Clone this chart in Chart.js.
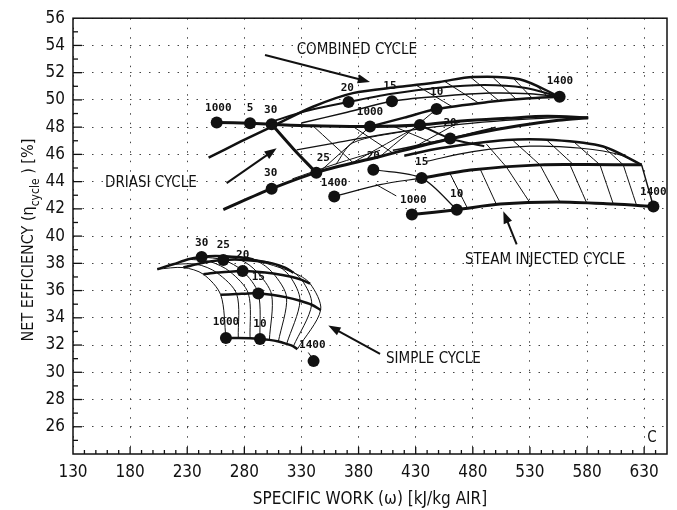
<!DOCTYPE html>
<html>
<head>
<meta charset="utf-8">
<script src="https://cdn.jsdelivr.net/npm/chart.js@4.4.1/dist/chart.umd.min.js"></script>
<style>
  html, body { margin: 0; padding: 0; background: #fff; }
  #chart { display: block; }
</style>
</head>
<body>
<canvas id="chart" width="677" height="510"></canvas>
<script>
// axis ticks
const xTickLabels = [130, 180, 230, 280, 330, 380, 430, 480, 530, 580, 630];
const yTickLabels = [26, 28, 30, 32, 34, 36, 38, 40, 42, 44, 46, 48, 50, 52, 54, 56];

// simple cycle carpet: rows = pressure ratio 10..30, columns = TIT 1000..1400
const simplePR = [10, 15, 20, 25, 30];
const simpleWork = [
  [263.9, 274.7, 285.0, 293.7, 301.9, 309.8, 317.0, 322.9, 326.4],
  [259.3, 273.3, 283.5, 292.2, 303.9, 317.0, 328.7, 338.9, 346.8],
  [244.1, 255.8, 267.4, 278.5, 290.8, 305.4, 320.0, 330.2, 337.5],
  [226.6, 238.3, 249.9, 261.6, 276.2, 290.8, 305.4, 315.6, 322.9],
  [203.8, 217.8, 231.0, 242.6, 254.3, 266.0, 274.7, 282.0, 287.9]
];
const simpleEff = [
  [32.52, 32.52, 32.50, 32.45, 32.38, 32.26, 32.08, 31.91, 31.70],
  [35.69, 35.74, 35.79, 35.79, 35.69, 35.50, 35.25, 34.96, 34.57],
  [37.20, 37.32, 37.39, 37.44, 37.39, 37.25, 37.03, 36.79, 36.52],
  [37.69, 37.93, 38.13, 38.25, 38.27, 38.17, 37.98, 37.69, 37.32],
  [37.57, 37.93, 38.30, 38.47, 38.54, 38.51, 38.47, 38.39, 38.30]
];
const simpleLeaderW = [336, 340.6];
const simpleLeaderE = [31.45, 30.9];

// combined cycle lines
const combinedWork = [
  [248.7, 277, 305.6, 340, 375, 416, 451, 480, 521, 556],
  [300, 335, 371.2, 409, 450, 490, 525, 556],
  [330, 370, 409.2, 450, 495, 530, 556],
  [390, 420, 448.3, 495, 527, 556]
];
const combinedEff = [
  [45.76, 46.95, 48.1, 49.5, 50.5, 50.96, 51.32, 51.69, 51.52, 50.23],
  [48.3, 49.2, 49.85, 50.45, 50.9, 51.1, 50.9, 50.23],
  [48.3, 49.1, 49.9, 50.25, 50.5, 50.45, 50.23],
  [48.04, 48.7, 49.33, 49.86, 50.11, 50.23]
];
const combinedHatchW = [[430, 462], [455, 485], [478, 503], [498, 518], [516, 532], [535, 546]];
const combinedHatchE = [[51.1, 49.5], [51.38, 49.77], [51.67, 49.92], [51.62, 50.05], [51.54, 50.13], [51.1, 50.19]];

// driasi cycle lines
const driasiWork = [
  [255.8, 285, 303.9, 340, 390, 433.7, 470, 510, 545, 581],
  [325.8, 360, 398.8, 440, 480, 520, 555, 581],
  [261.6, 303.9, 346.2, 398.8, 440, 480, 520, 555, 581]
];
const driasiEff = [
  [48.35, 48.28, 48.21, 48.1, 48.04, 48.16, 48.45, 48.65, 48.8, 48.69],
  [46.33, 46.85, 47.43, 47.95, 48.3, 48.55, 48.7, 48.69],
  [41.95, 43.48, 44.75, 45.84, 46.75, 47.5, 48.1, 48.5, 48.69]
];
const driasiWidth = [3, 1.2, 3];
const driasiMeshW = [[303.9, 323, 341.8], [340, 375], [375, 410], [410, 445], [433.7, 460.2, 490],
  [346.2, 390], [375, 433.7], [398.8, 448.3], [430, 470], [410, 460.2, 500],
  [322, 360, 398.8], [360, 375, 420]];
const driasiMeshE = [[48.21, 46.4, 44.75], [48.1, 45.4], [48.05, 46.1], [48.08, 46.85], [48.16, 47.17, 46.6],
  [44.75, 48.04], [45.4, 48.16], [45.84, 49.33], [46.6, 48.45], [46.3, 47.17, 48.0],
  [44.2, 45.3, 46.3], [45.25, 46.85, 47.7]];
const driasiMeshWidth = [3, 1, 1, 1, 2, 1, 1, 1, 1, 1.5, 1, 1];

// steam injected cycle lines
const steamWork = [
  [426.7, 466, 504, 553.6, 603.1, 638.1],
  [435.2, 480.4, 538.8, 580, 627.8],
  [420, 451.2, 509.6, 550.5, 594.2, 627.8],
  [440, 480, 530, 575, 610, 627.8],
  [627.8, 638.1],
  [466, 435.2, 392.9],
  [358.7, 398.8, 435.2],
  [395, 413]
];
const steamEff = [
  [41.58, 41.94, 42.35, 42.5, 42.35, 42.18],
  [44.26, 44.87, 45.23, 45.25, 45.23],
  [45.9, 46.45, 47.06, 47.06, 46.58, 45.23],
  [45.5, 46.2, 46.6, 46.45, 45.95, 45.23],
  [45.23, 42.18],
  [41.94, 44.26, 44.87],
  [42.91, 43.78, 44.26],
  [43.8, 42.95]
];
const steamWidth = [3, 3, 2.5, 1.2, 1.5, 1.2, 1.2, 1];
const steamHatchW = [[492, 509.6], [515.4, 538.8], [544.6, 568], [568, 591.3], [594.2, 611.7],
  [460, 475], [486.3, 500.8], [509.6, 530], [538.8, 556.3], [565, 579.6], [591.3, 603], [611.7, 623.4]];
const steamHatchE = [[46.75, 45.05], [47.0, 45.23], [47.06, 45.25], [46.95, 45.24], [46.58, 45.23],
  [44.6, 42.1], [44.95, 42.3], [45.05, 42.45], [45.23, 42.5], [45.25, 42.45], [45.24, 42.35], [45.23, 42.25]];

// marked points
const dotWork = [242.6, 261.6, 278.5, 292.2, 293.7, 263.9, 340.6,
  255.8, 285, 303.9, 303.9, 358.7, 390, 371.2, 392.9, 409.2, 448.3, 556,
  433.7, 460.2, 435.2, 426.7, 466, 638.1, 343];
const dotEff = [38.47, 38.25, 37.44, 35.79, 32.45, 32.52, 30.82,
  48.35, 48.28, 48.21, 43.48, 42.91, 48.04, 49.85, 44.87, 49.9, 49.33, 50.23,
  48.16, 47.17, 44.26, 41.58, 41.94, 42.18, 44.65];

// point labels
const numText = ['30', '25', '20', '15', '1000', '10', '1400',
  '1000', '5', '30', '20', '25', '30', '1400', '1000', '15', '10', '1400',
  '20', '15', '20', '1000', '10', '1400'];
const numWork = [242.7, 261.6, 278.6, 292.2, 263.9, 293.7, 339.5,
  257.2, 285, 303.1, 370.1, 349.1, 303.1, 358.5, 390, 407.5, 448.4, 556.3,
  460.1, 435.3, 392.9, 427.9, 465.9, 638];
const numEff = [39.51, 39.34, 38.61, 36.95, 33.67, 33.55, 31.96,
  49.42, 49.42, 49.26, 50.89, 45.72, 44.62, 43.89, 49.13, 51.03, 50.54, 51.38,
  48.28, 45.41, 45.84, 42.63, 43.09, 43.24];

// cycle names with arrows
const cycleNames = ['COMBINED CYCLE', 'DRIASI CYCLE', 'STEAM INJECTED CYCLE', 'SIMPLE CYCLE'];
const nameWork = [325.8, 158, 473.2, 404];
const nameEff = [53.64, 43.87, 38.27, 31.0];
const arrowFrom = [[298.1, 53.30], [264.5, 43.89], [518.4, 39.39], [398.8, 31.36]];
const arrowTo = [[390, 51.32], [308.3, 46.45], [506.7, 41.83], [353.5, 33.43]];

const INK = '#111';
const FONT = '"Liberation Sans Narrow", "DejaVu Sans Condensed", sans-serif';
const NUMFONT = 'bold 11px "DejaVu Sans Mono", monospace';

function pts(xs, ys) { return xs.map((x, i) => ({ x: x, y: ys[i] })); }
function lineSet(xs, ys, w) {
  return { data: pts(xs, ys), showLine: true, borderColor: INK, borderWidth: w,
    pointRadius: 0, tension: 0.3, fill: false };
}
function group(W, E, widths) {
  return W.map((r, i) => lineSet(r, E[i], Array.isArray(widths) ? widths[i] : widths));
}

const datasets = [];
// simple: pressure ratio lines thick, temperature lines thin
simpleWork.forEach((r, i) => datasets.push(lineSet(r, simpleEff[i], 2.5)));
for (let j = 0; j < simpleWork[0].length; j++) {
  datasets.push(lineSet(simpleWork.map(r => r[j]), simpleEff.map(r => r[j]), 1));
}
datasets.push(lineSet(simpleLeaderW, simpleLeaderE, 1));
datasets.push(...group(combinedWork, combinedEff, [2.5, 2, 1.5, 2.5]));
datasets.push(...group(combinedHatchW, combinedHatchE, 1));
datasets.push(...group(driasiWork, driasiEff, driasiWidth));
datasets.push(...group(driasiMeshW, driasiMeshE, driasiMeshWidth));
datasets.push(...group(steamWork, steamEff, steamWidth));
datasets.push(...group(steamHatchW, steamHatchE, 1));
datasets.push({ data: pts(dotWork, dotEff), showLine: false, pointRadius: 6,
  pointBackgroundColor: INK, pointBorderColor: INK, pointBorderWidth: 0 });

const decor = {
  id: 'decor',
  afterDatasetsDraw(chart) {
    const { ctx, chartArea: a, scales: { x, y } } = chart;
    ctx.save();
    // frame
    ctx.strokeStyle = INK; ctx.lineWidth = 1.5;
    ctx.strokeRect(a.left, a.top, a.right - a.left, a.bottom - a.top);
    // inner ticks
    ctx.lineWidth = 1.3;
    for (let v = 25; v < 56; v++) {
      const p = y.getPixelForValue(v);
      const len = v % 2 === 0 ? 9 : 5;
      ctx.beginPath(); ctx.moveTo(a.left, p); ctx.lineTo(a.left + len, p); ctx.stroke();
    }
    for (let v = 140; v < 650; v += 10) {
      const p = x.getPixelForValue(v);
      const len = (v - 130) % 50 === 0 ? 7 : 4;
      ctx.beginPath(); ctx.moveTo(p, a.bottom); ctx.lineTo(p, a.bottom - len); ctx.stroke();
    }
    // point labels
    ctx.fillStyle = INK;
    ctx.font = NUMFONT;
    ctx.textAlign = 'center'; ctx.textBaseline = 'middle';
    numText.forEach((t, i) => {
      ctx.fillText(t, x.getPixelForValue(numWork[i]), y.getPixelForValue(numEff[i]));
    });
    // cycle names
    ctx.font = '15px ' + FONT;
    ctx.textAlign = 'left';
    cycleNames.forEach((t, i) => {
      ctx.fillText(t, x.getPixelForValue(nameWork[i]), y.getPixelForValue(nameEff[i]));
    });
    ctx.fillText('C', x.getPixelForValue(632.8), y.getPixelForValue(25.15));
    // arrows
    ctx.lineWidth = 2;
    arrowFrom.forEach((f, i) => {
      const x1 = x.getPixelForValue(f[0]), y1 = y.getPixelForValue(f[1]);
      const x2 = x.getPixelForValue(arrowTo[i][0]), y2 = y.getPixelForValue(arrowTo[i][1]);
      const ang = Math.atan2(y2 - y1, x2 - x1);
      ctx.beginPath(); ctx.moveTo(x1, y1);
      ctx.lineTo(x2 - 8 * Math.cos(ang), y2 - 8 * Math.sin(ang)); ctx.stroke();
      ctx.beginPath();
      ctx.moveTo(x2, y2);
      ctx.lineTo(x2 - 13 * Math.cos(ang - 0.35), y2 - 13 * Math.sin(ang - 0.35));
      ctx.lineTo(x2 - 13 * Math.cos(ang + 0.35), y2 - 13 * Math.sin(ang + 0.35));
      ctx.closePath(); ctx.fill();
    });
    // y axis title with subscript
    ctx.translate(27, (a.top + a.bottom) / 2 + 4);
    ctx.rotate(-Math.PI / 2);
    ctx.textBaseline = 'alphabetic';
    const p1 = 'NET EFFICIENCY (\u03b7', sub = 'cycle', p2 = ' ) [%]';
    ctx.font = '16px ' + FONT;
    const w1 = ctx.measureText(p1).width, w2 = ctx.measureText(p2).width;
    ctx.font = '12px ' + FONT;
    const ws = ctx.measureText(sub).width;
    let sx = -(w1 + ws + w2) / 2;
    ctx.font = '16px ' + FONT;
    ctx.fillText(p1, sx, 6); sx += w1;
    ctx.font = '12px ' + FONT;
    ctx.fillText(sub, sx, 12); sx += ws;
    ctx.font = '16px ' + FONT;
    ctx.fillText(p2, sx, 6);
    ctx.restore();
  }
};

new Chart(document.getElementById('chart'), {
  type: 'scatter',
  data: { datasets: datasets },
  options: {
    responsive: false,
    animation: false,
    layout: { padding: { top: 16, right: 10, left: 0, bottom: 0 } },
    plugins: { legend: { display: false }, tooltip: { enabled: false } },
    scales: {
      x: {
        type: 'linear', min: 130, max: 650,
        afterFit(s) { s.height = 56; },
        afterBuildTicks(s) { s.ticks = xTickLabels.map(v => ({ value: v })); },
        ticks: { color: INK, padding: 8, font: { family: FONT, size: 17 }, maxRotation: 0,
          autoSkip: false },
        grid: { color: '#444', lineWidth: 1, drawTicks: false },
        border: { display: false, dash: [1.5, 8] },
        title: { display: true, text: 'SPECIFIC WORK (\u03c9) [kJ/kg AIR]', color: INK,
          font: { family: FONT, size: 17 }, padding: { top: 4, bottom: 0 } }
      },
      y: {
        type: 'linear', min: 24, max: 56,
        afterFit(s) { s.width = 73; },
        afterBuildTicks(s) { s.ticks = yTickLabels.map(v => ({ value: v })); },
        ticks: { color: INK, padding: 8, font: { family: FONT, size: 17 }, autoSkip: false },
        grid: { color: '#444', lineWidth: 1, drawTicks: false },
        border: { display: false, dash: [1.5, 8] }
      }
    }
  },
  plugins: [decor]
});
</script>
</body>
</html>
